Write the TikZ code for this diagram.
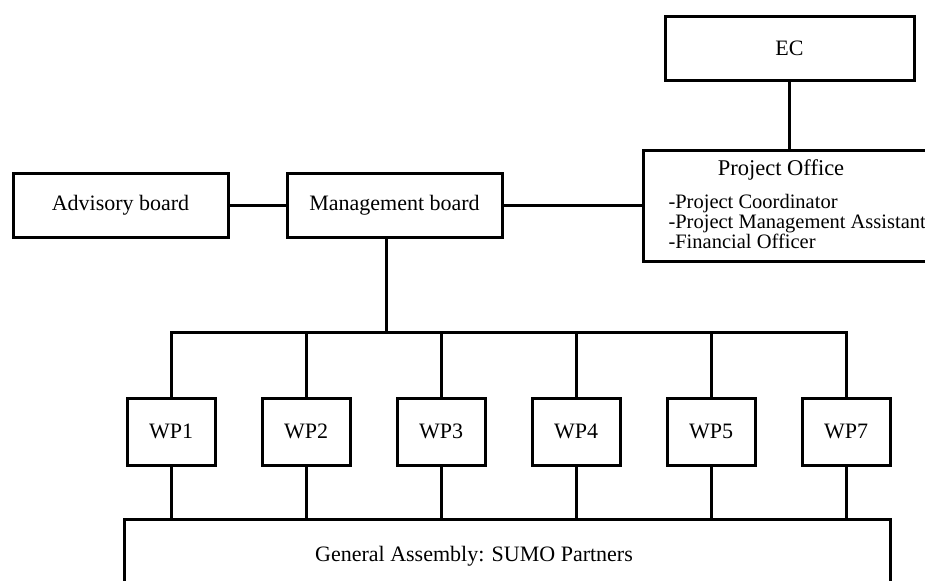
\documentclass[tikz,border=0pt]{standalone}
\usepackage{fontspec}
\setmainfont{Liberation Serif}
\usetikzlibrary{calc,positioning}

\begin{document}
\begin{tikzpicture}[x=0.5pt, y=-0.5pt, line width=1.5pt,
  box/.style={draw, rectangle, inner sep=0pt, font=\fontsize{11}{13}\selectfont},
  wpbox/.style={box, minimum width=44pt, minimum height=33.5pt},
  txt/.style={inner sep=0pt, anchor=base west, font=\fontsize{10.25}{12}\selectfont}]
\useasboundingbox (0,0) rectangle (925,580);
\clip (0,0) rectangle (925,580);
\node[box, minimum width=124.5pt, minimum height=32pt] (ec) at (789.5,48) {EC};
\node[box, minimum width=170pt, minimum height=55.5pt] (po) at (813,205.5) {};
\node[inner sep=0pt, anchor=base, font=\fontsize{11.25}{13}\selectfont] (pohead) at (781,175) {Project Office};
\node[txt] (po1) at (667,208) {-Project Coordinator};
\node[txt] (po2) at (667,228) {-Project Management Assistant};
\node[txt] (po3) at (667,248) {-Financial Officer};
\node[box, minimum width=107.5pt, minimum height=32pt] (ab) at (120.5,205) {Advisory board};
\node[box, minimum width=107.5pt, minimum height=32pt] (mb) at (394.5,205) {Management board};
\foreach \n/\x in {1/171,2/306,3/441,4/576,5/711,7/846}
  \node[wpbox] (wp\n) at (\x,431.5) {WP\n};
\node[box, minimum width=383pt, minimum height=60pt] (ga) at (507,579) {};
\node[inner sep=0pt, anchor=base, font=\fontsize{11}{13}\selectfont] (gatext) at (474,561) {General Assembly: SUMO Partners};
\coordinate (hub) at (386,332);
% boards
\draw (ab) -- (mb);
\draw (mb.east) -- (mb.east -| po.west);
\draw (ec.south) -- (ec.south |- po.north);
\draw (hub |- mb.south) -- (hub);
% work packages
\draw (wp1.north) -- (wp1.north |- hub) -- (wp7.north |- hub) -- (wp7.north);
\foreach \n in {2,3,4,5}
  \draw (wp\n.north) -- (wp\n.north |- hub);
\foreach \n in {1,2,3,4,5,7}
  \draw (wp\n.south) -- (wp\n.south |- ga.north);
\end{tikzpicture}
\end{document}
